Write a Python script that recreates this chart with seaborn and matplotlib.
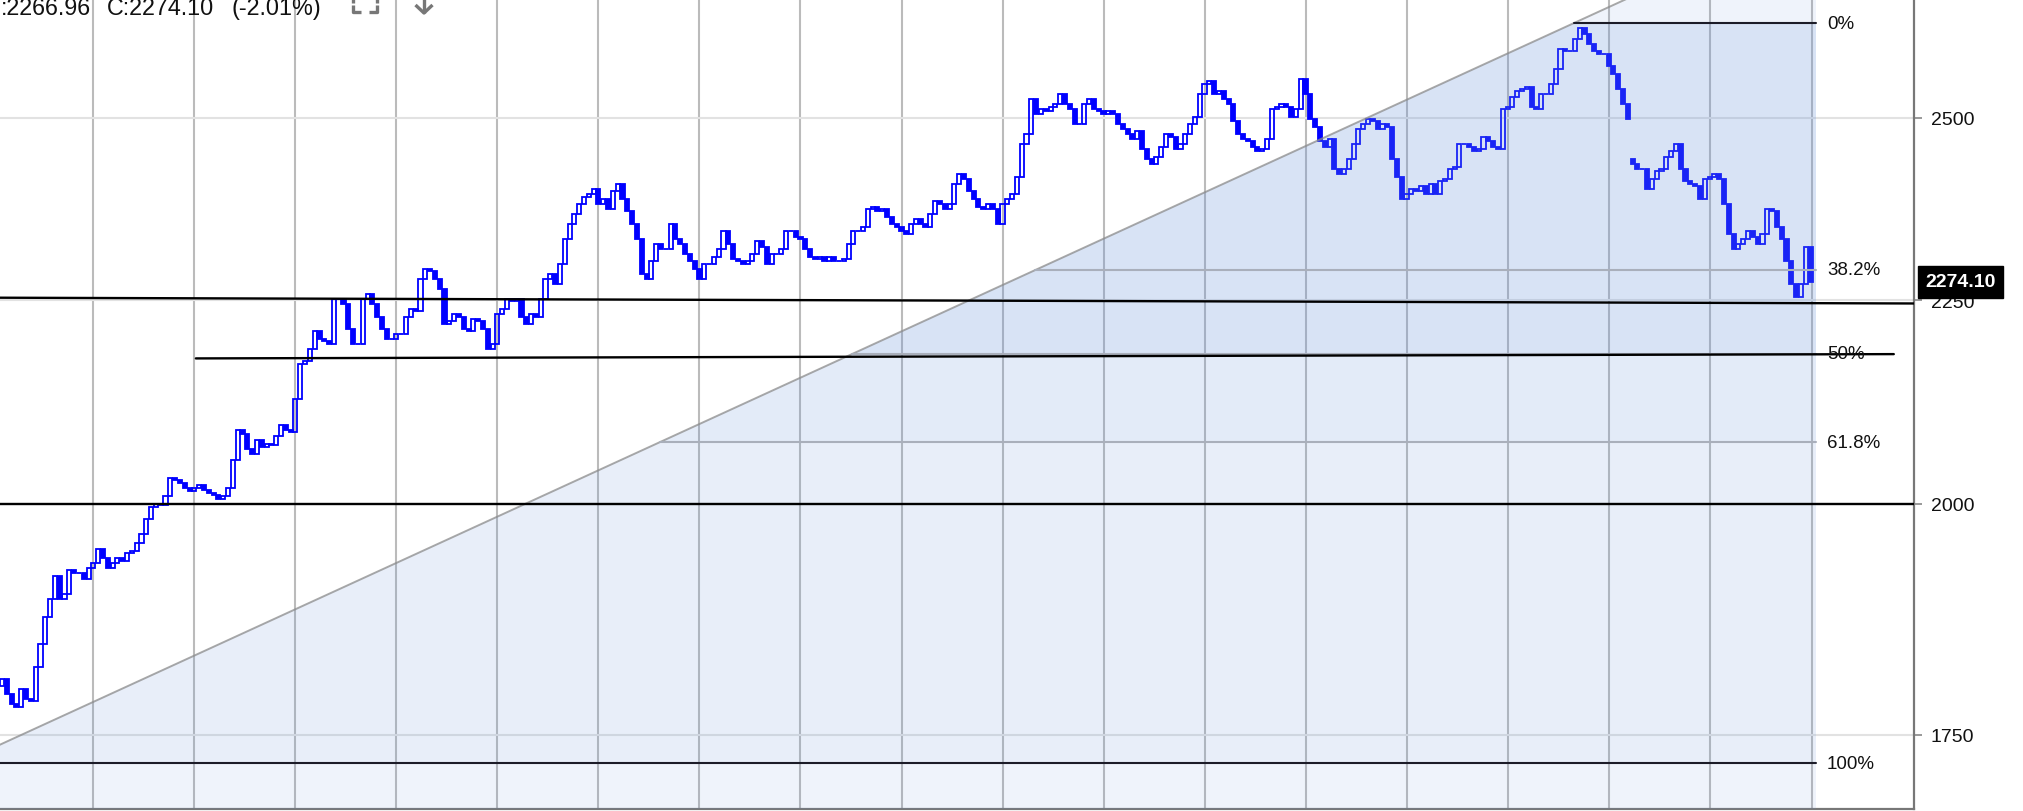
import numpy as np
import pandas as pd
import matplotlib
matplotlib.use("Agg")
import matplotlib.pyplot as plt
from matplotlib.lines import Line2D
from matplotlib.ticker import NullLocator
import matplotlib.transforms as mtransforms
import seaborn as sns

# ---------------- data ----------------
closes = [
    1808, 1792, 1782, 1779, 1797, 1787, 1785, 1820, 1845, 1873,
    1893, 1918, 1893, 1899, 1925, 1922, 1922, 1915, 1927, 1933,
    1949, 1938, 1927, 1933, 1938, 1935, 1944, 1946, 1955, 1966,
    1983, 1997, 2000, 1999, 2009, 2030, 2028, 2024, 2018, 2015,
    2018, 2022, 2016, 2013, 2011, 2006, 2009, 2018, 2051, 2087,
    2083, 2065, 2059, 2075, 2067, 2071, 2069, 2080, 2094, 2087,
    2085, 2125, 2169, 2172, 2187, 2210, 2200, 2198, 2194, 2252,
    2252, 2245, 2213, 2194, 2194, 2252, 2258, 2245, 2228, 2213,
    2200, 2200, 2207, 2207, 2228, 2239, 2236, 2278, 2291, 2288,
    2278, 2265, 2219, 2223, 2232, 2228, 2213, 2210, 2226, 2223,
    2213, 2187, 2194, 2232, 2239, 2252, 2249, 2252, 2228, 2219,
    2232, 2228, 2252, 2278, 2284, 2271, 2298, 2331, 2351, 2365,
    2379, 2389, 2393, 2399, 2379, 2386, 2372, 2397, 2406, 2386,
    2369, 2351, 2331, 2284, 2278, 2301, 2324, 2318, 2318, 2351,
    2331, 2324, 2311, 2301, 2291, 2278, 2298, 2298, 2307, 2318,
    2342, 2324, 2304, 2301, 2298, 2301, 2311, 2328, 2320, 2298,
    2311, 2311, 2318, 2342, 2342, 2334, 2331, 2318, 2307, 2304,
    2307, 2301, 2307, 2301, 2301, 2304, 2324, 2342, 2342, 2347,
    2372, 2375, 2369, 2372, 2361, 2351, 2347, 2342, 2338, 2351,
    2358, 2351, 2347, 2365, 2383, 2379, 2372, 2379, 2406, 2420,
    2413, 2397, 2386, 2375, 2372, 2379, 2372, 2351, 2379, 2386,
    2393, 2416, 2463, 2477, 2528, 2506, 2513, 2510, 2516, 2520,
    2535, 2520, 2513, 2491, 2491, 2520, 2528, 2513, 2510, 2506,
    2510, 2506, 2491, 2484, 2477, 2470, 2481, 2456, 2441, 2434,
    2444, 2459, 2477, 2473, 2456, 2463, 2477, 2491, 2501, 2535,
    2550, 2554, 2535, 2539, 2528, 2520, 2496, 2477, 2470, 2467,
    2459, 2453, 2456, 2470, 2513, 2516, 2520, 2516, 2501, 2513,
    2557, 2535, 2499, 2487, 2467, 2459, 2470, 2427, 2420, 2427,
    2441, 2463, 2484, 2491, 2499, 2496, 2484, 2491, 2487, 2441,
    2416, 2386, 2393, 2399, 2397, 2403, 2393, 2406, 2393, 2410,
    2413, 2427, 2430, 2463, 2463, 2459, 2453, 2456, 2473, 2467,
    2459, 2456, 2513, 2516, 2531, 2539, 2542, 2545, 2516, 2513,
    2535, 2535, 2550, 2572, 2602, 2599, 2599, 2617, 2634, 2624,
    2609, 2599, 2594, 2594, 2576, 2564, 2542, 2520, 2499, 2434,
    2427, 2427, 2399, 2413, 2424, 2427, 2444, 2453, 2463, 2427,
    2410, 2406, 2403, 2386, 2413, 2416, 2420, 2413, 2379, 2338,
    2318, 2324, 2331, 2342, 2334, 2324, 2338, 2372, 2369, 2347,
    2331, 2301, 2271, 2254, 2271, 2320.8, 2274.10,
]
first_open = 1800.0
gap_opens = {339: 2442.0}

header_low = ":2266.96"
header_close = "C:2274.10"
header_change = "(-2.01%)"
last_close = 2274.10

ytick_values = [1750, 2000, 2250, 2500]
ytick_labels = ["1750", "2000", "2250", "2500"]

fib_low, fib_high = 1721.5, 2641.0
fib_low_idx, fib_high_idx = -8.9, 326.8
fib_end_idx = 377.1
fib_ratios = [0.0, 0.382, 0.5, 0.618, 1.0]
fib_labels = ["0%", "38.2%", "50%", "61.8%", "100%"]

trend_a_idx = [-0.4, 397.5]
trend_a_price = [2253.3, 2245.8]
trend_b_idx = [40.3, 393.3]
trend_b_price = [2175.6, 2181.0]
hline_price = 2000

# ---------------- figure ----------------
W, H = 2024, 812
sns.set_theme(style="white")
plt.rcParams["font.family"] = ["Liberation Sans", "DejaVu Sans"]

fig = plt.figure(figsize=(W / 100, H / 100), dpi=100)
ax = fig.add_axes([0, 2 / H, 1914 / W, 810 / H])
ax.set_yscale("log")
ytop, ybot = 2678.0, 1676.7
ax.set_ylim(ybot, ytop)
ax.set_xlim(-0.416, 397.5)

# grid
grid_pos = 18.86 + 21.02 * np.arange(18)
ax.set_xticks(grid_pos)
ax.set_xticklabels([])
ax.tick_params(axis="x", length=0, bottom=False)
ax.xaxis.grid(True, color="#bbbbbb", lw=1.5, zorder=0)
ax.yaxis.grid(True, color="#e2e2e2", lw=1.5, zorder=0)
ax.set_axisbelow(True)

# candles
idx = np.arange(len(closes))
c = np.array(closes, dtype=float)
o = np.concatenate([[first_open], c[:-1]])
for k, v in gap_opens.items():
    o[k] = v
df = pd.DataFrame({"idx": idx, "open": o, "close": c})
df["lo"] = df[["open", "close"]].min(axis=1)
df["hgt"] = (df["close"] - df["open"]).abs()
up = df["close"] >= df["open"]
blue = "#0000ff"
ax.bar(df.loc[up, "idx"], df.loc[up, "hgt"], bottom=df.loc[up, "lo"], width=0.85,
       facecolor="none", edgecolor=blue, linewidth=1.3, zorder=2)
ax.bar(df.loc[~up, "idx"], df.loc[~up, "hgt"], bottom=df.loc[~up, "lo"], width=0.85,
       facecolor=blue, edgecolor=blue, linewidth=1.3, zorder=2)

# fibonacci retracement
l1, l2 = np.log(fib_low), np.log(fib_high)


def diag_x(p):
    return fib_low_idx + (fib_high_idx - fib_low_idx) * (np.log(p) - l1) / (l2 - l1)


levels = [fib_high - r * (fib_high - fib_low) for r in fib_ratios]
edges = [ytop * 1.02] + levels + [ybot * 0.98]
alphas = [0.10, 0.25, 0.25, 0.18, 0.15, 0.10]
shade = "#6793db"
for (pa, pb), a in zip(zip(edges[:-1], edges[1:]), alphas):
    xs = [diag_x(pa), fib_end_idx, fib_end_idx, diag_x(pb)]
    ys = [pa, pa, pb, pb]
    ax.fill(xs, ys, color=shade, alpha=a, lw=0, zorder=3)

ax.plot([diag_x(ybot * 0.98), diag_x(ytop * 1.02)], [ybot * 0.98, ytop * 1.02],
        color="#8c8c8c", alpha=0.75, lw=1.4, zorder=4)
for r, p, lab in zip(fib_ratios, levels, fib_labels):
    col = "#1c1c28" if r in (0.0, 1.0) else "#a9afbb"
    ax.plot([diag_x(p), fib_end_idx], [p, p], color=col, lw=1.5, zorder=4)
    ax.text(fib_end_idx + 2.3, p, lab, fontsize=13.5, va="center", ha="left",
            color="#111111", zorder=6)

# user trend lines
sns.lineplot(x=trend_a_idx, y=trend_a_price, color="black", lw=1.7, ax=ax, zorder=5)
sns.lineplot(x=trend_b_idx, y=trend_b_price, color="black", lw=1.7, ax=ax, zorder=5)
sns.lineplot(x=[-0.416, 397.5], y=[hline_price, hline_price], color="black", lw=1.7,
             ax=ax, zorder=5)

# axes styling
for s in ["left", "top"]:
    ax.spines[s].set_visible(False)
for s in ["right", "bottom"]:
    ax.spines[s].set_color("#777777")
    ax.spines[s].set_linewidth(1.6)
ax.yaxis.tick_right()
ax.set_yticks(ytick_values)
ax.set_yticklabels(ytick_labels)
ax.yaxis.set_minor_locator(NullLocator())
ax.tick_params(axis="y", which="major", length=6, width=1.4, color="#999999",
               pad=6, labelsize=14, labelcolor="#111111", right=True, left=False)
ax.set_xlabel("")
ax.set_ylabel("")

# last price box
tr = mtransforms.blended_transform_factory(ax.transAxes, ax.transData)
ax.annotate(f"{last_close:.2f}", xy=(1.0, last_close), xycoords=tr,
            xytext=(11, 0), textcoords="offset pixels", ha="left", va="center",
            fontsize=14, fontweight="bold", color="white", zorder=10,
            annotation_clip=False,
            bbox=dict(boxstyle="square,pad=0.38", fc="black", ec="black"))

# header text
base = 1 - 15 / H
fig.text(1 / W, base, header_low, fontsize=16.8, va="baseline", ha="left", color="#111111")
fig.text(107 / W, base, header_close, fontsize=16.8, va="baseline", ha="left", color="#111111")
fig.text(232 / W, base, header_change, fontsize=16.8, va="baseline", ha="left", color="#111111")


def figline(xs, ys, **kw):
    fig.add_artist(Line2D(np.array(xs) / W, 1 - np.array(ys) / H,
                          transform=fig.transFigure, **kw))


icon = dict(color="#777777", lw=2.4, solid_capstyle="butt")
figline([353, 353], [0, 3.5], **icon)
figline([377, 377], [0, 3.5], **icon)
figline([353, 353, 361], [6, 13, 13], **icon)
figline([377, 377, 369], [6, 13, 13], **icon)
figline([424, 424], [-2, 14], **icon)
figline([415.5, 424, 432.5], [6, 14, 6], **icon)

fig.savefig("out.png", dpi=100)
